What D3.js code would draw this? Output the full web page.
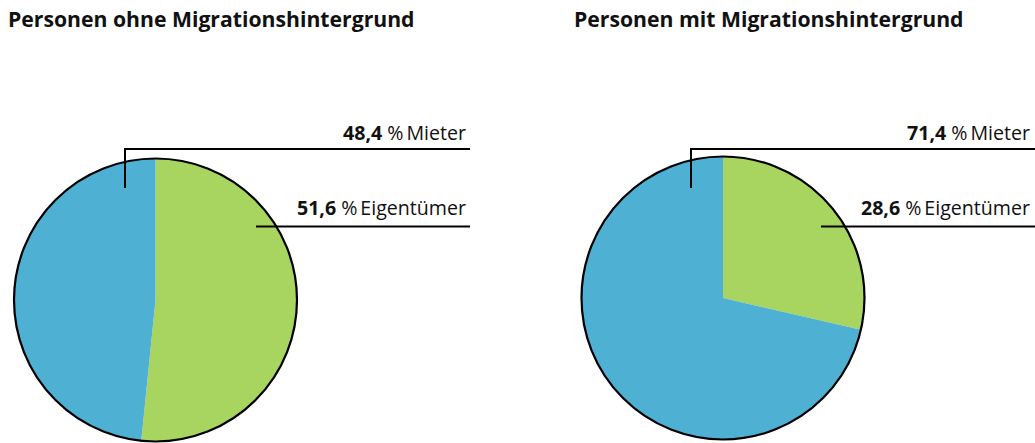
<!DOCTYPE html>
<html>
<head>
<meta charset="utf-8">
<script src="https://cdn.jsdelivr.net/npm/d3@7"></script>
<style>
  html, body { margin: 0; padding: 0; background: #fff; }
  svg { display: block; }
</style>
</head>
<body>
<svg id="chart" width="1035" height="443"></svg>
<script>
// ---- data ----
const charts = ["Personen ohne Migrationshintergrund", "Personen mit Migrationshintergrund"];
const categories = ["Eigentümer", "Mieter"];
const valuesOhne = [51.6, 48.4];
const valuesMit = [28.6, 71.4];
const valueLabels = [["51,6", "48,4"], ["28,6", "71,4"]];
const colors = ["#a8d460", "#4eb0d3"];

// ---- layout ----
const W = 1035, H = 443;
const panels = [
  { titleX: 8, cx: 155.5, cy: 300, r: 141.5, lineEnd: 470, textRight: 466,
    mieterX: 125, eigX: 256 },
  { titleX: 574, cx: 723, cy: 298, r: 141.5, lineEnd: 1035, textRight: 1030,
    mieterX: 691, eigX: 821 }
];
const seriesValues = [valuesOhne, valuesMit];
const font = "'Open Sans', 'Noto Sans', sans-serif";

const svg = d3.select("#chart");
const color = d3.scaleOrdinal().domain(categories).range(colors);
const pie = d3.pie().sort(null).value(d => d.value);

panels.forEach((p, i) => {
  const data = categories.map((c, j) => ({ cat: c, value: seriesValues[i][j], label: valueLabels[i][j] }));
  const g = svg.append("g");

  g.append("text")
    .attr("x", p.titleX).attr("y", 27)
    .attr("font-family", font).attr("font-weight", 700).attr("font-size", 21.2)
    .attr("fill", "#111")
    .text(charts[i]);

  const arc = d3.arc().innerRadius(0).outerRadius(p.r);
  const pg = g.append("g").attr("transform", `translate(${p.cx},${p.cy})`);
  pg.selectAll("path.slice").data(pie(data)).join("path")
    .attr("class", "slice")
    .attr("d", arc)
    .attr("fill", d => color(d.data.cat));
  pg.append("circle").attr("r", p.r).attr("fill", "none")
    .attr("stroke", "#000").attr("stroke-width", 2.2);

  // leader lines
  const mieterY = 149, eigY = 226.5;
  g.append("path")
    .attr("d", `M${p.mieterX},188 V${mieterY} H${p.lineEnd}`)
    .attr("fill", "none").attr("stroke", "#000").attr("stroke-width", 2);
  g.append("path")
    .attr("d", `M${p.eigX},${eigY} H${p.lineEnd}`)
    .attr("fill", "none").attr("stroke", "#000").attr("stroke-width", 2);

  // labels
  const labelY = { "Mieter": 140, "Eigentümer": 215 };
  data.forEach(d => {
    const t = g.append("text")
      .attr("x", p.textRight).attr("y", labelY[d.cat])
      .attr("text-anchor", "end")
      .attr("font-family", font).attr("font-size", 19.6)
      .attr("fill", "#111");
    t.append("tspan").attr("font-weight", 700).text(d.label);
    t.append("tspan").attr("dx", 5).text("%");
    t.append("tspan").attr("dx", 3).text(d.cat);
  });
});
</script>
</body>
</html>
